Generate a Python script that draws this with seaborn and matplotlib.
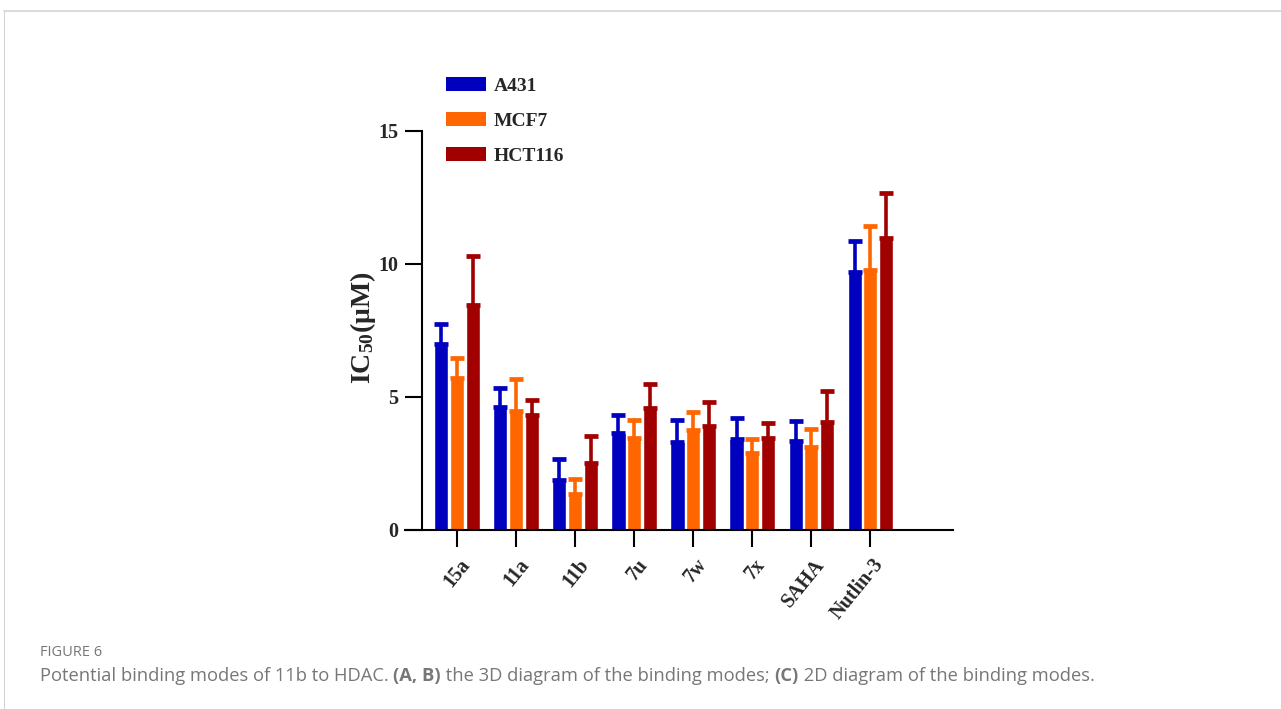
import pandas as pd
import seaborn as sns
import matplotlib.pyplot as plt
import matplotlib.transforms as mtransforms
from matplotlib.patches import Patch
from matplotlib.lines import Line2D

# Data
compounds = ['15a', '11a', '11b', '7u', '7w', '7x', 'SAHA', 'Nutlin-3']
cell_lines = ['A431', 'MCF7', 'HCT116']
a431 = [6.99, 4.62, 1.88, 3.65, 3.31, 3.42, 3.35, 9.70]
mcf7 = [5.71, 4.47, 1.35, 3.46, 3.76, 2.89, 3.12, 9.77]
hct116 = [8.46, 4.32, 2.52, 4.59, 3.91, 3.46, 4.06, 10.98]
a431_err = [0.77, 0.72, 0.79, 0.67, 0.83, 0.79, 0.75, 1.16]
mcf7_err = [0.77, 1.21, 0.57, 0.68, 0.68, 0.53, 0.68, 1.66]
hct116_err = [1.84, 0.57, 1.01, 0.90, 0.90, 0.56, 1.17, 1.69]
colors = ['#0000BF', '#FF6600', '#A00000']

values = [a431, mcf7, hct116]
errors = [a431_err, mcf7_err, hct116_err]

rows = []
for line, vals in zip(cell_lines, values):
    for c, v in zip(compounds, vals):
        rows.append({'compound': c, 'cell': line, 'ic50': v})
df = pd.DataFrame(rows)

sns.set_style('ticks')
plt.rcParams['font.family'] = ['Liberation Serif', 'DejaVu Serif']
plt.rcParams['mathtext.fontset'] = 'custom'
plt.rcParams['mathtext.rm'] = 'Liberation Serif:bold'
plt.rcParams['mathtext.bf'] = 'Liberation Serif:bold'
plt.rcParams['mathtext.default'] = 'bf'

fig = plt.figure(figsize=(12.81, 7.09), dpi=100)
ax = fig.add_axes([0.3162, 0.2525, 0.4278, 0.5815])

sns.barplot(data=df, x='compound', y='ic50', hue='cell', order=compounds,
            hue_order=cell_lines, palette=colors, width=0.8, gap=0.1,
            errorbar=None, legend=False, ax=ax, saturation=1)

# upper error bars only
for cont, err, col in zip(ax.containers, errors, colors):
    xs = [p.get_x() + p.get_width() / 2 for p in cont]
    ys = [p.get_height() for p in cont]
    ax.errorbar(xs, ys, yerr=[[0] * len(err), err], fmt='none', ecolor=col,
                elinewidth=2.6, capsize=5, capthick=3.4, zorder=1)

ax.set_xlim(-0.88, 8.4)
ax.set_ylim(0, 15.5)
ax.set_yticks([0, 5, 10, 15])
ax.spines['left'].set_position(('data', -0.59))
ax.spines['left'].set_bounds(0, 15)
ax.spines['top'].set_visible(False)
ax.spines['right'].set_visible(False)
for s in ['left', 'bottom']:
    ax.spines[s].set_linewidth(1.5)
    ax.spines[s].set_color('black')
ax.tick_params(axis='both', length=12, width=1.5, color='black')
ax.tick_params(axis='y', labelsize=14.5, pad=5)
ax.tick_params(axis='x', pad=6)
ax.set_xticks(range(len(compounds)))
ax.set_xticklabels(compounds, rotation=51, ha='right', va='top',
                   rotation_mode='anchor', fontsize=14.5, fontweight='bold')
shift = mtransforms.ScaledTranslation(1.5 / 72, 0, fig.dpi_scale_trans)
for t in ax.get_xticklabels():
    t.set_transform(t.get_transform() + shift)
for t in ax.get_yticklabels():
    t.set_fontweight('bold')
ax.set_xlabel('')
ax.set_ylabel('IC$_{50}$(μM)', fontsize=20, fontweight='bold')
ax.yaxis.set_label_coords(-0.049, 0.49)

handles = [Patch(facecolor=c, edgecolor='none') for c in colors]
fig.legend(handles, cell_lines, loc='upper left',
           bbox_to_anchor=(446 / 1281, (709 - 77) / 709), frameon=False,
           prop={'weight': 'bold', 'size': 14}, handlelength=2.06,
           handleheight=0.7, labelspacing=0.9, handletextpad=0.4,
           borderpad=0, borderaxespad=0)

# page frame and caption
fig.add_artist(Line2D([4 / 1281, 1], [1 - 11 / 709, 1 - 11 / 709],
                      color='#d4d4d4', lw=1.2))
fig.add_artist(Line2D([4 / 1281, 4 / 1281], [0, 1 - 11 / 709],
                      color='#d4d4d4', lw=0.8))
fig.text(40 / 1281, 1 - 653 / 709, 'FIGURE 6', fontsize=10.5, color='#777777',
         family=['Open Sans', 'DejaVu Sans'], va='center')

# caption built piecewise to allow bold parts
renderer = fig.canvas.get_renderer()
x = 40 / 1281
parts = [('Potential binding modes of 11b to HDAC. ', 'normal'),
         ('(A, B)', 'bold'),
         (' the 3D diagram of the binding modes; ', 'normal'),
         ('(C)', 'bold'),
         (' 2D diagram of the binding modes.', 'normal')]
for txt, w in parts:
    t = fig.text(x, 1 - 676 / 709, txt, fontsize=13.2, color='#777777',
                 fontweight=w, family=['Open Sans', 'DejaVu Sans'], va='center')
    bb = t.get_window_extent(renderer=renderer)
    x += bb.width / fig.bbox.width

fig.savefig('out.png', dpi=100)
